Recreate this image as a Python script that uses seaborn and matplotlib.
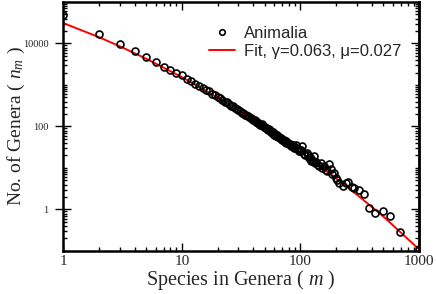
import matplotlib
matplotlib.use("Agg")
import matplotlib.pyplot as plt
from matplotlib.lines import Line2D
from matplotlib.ticker import FixedLocator, NullFormatter, FixedFormatter
import seaborn as sns
import pandas as pd

# ---- data ----
species = [1, 2, 3, 4, 5, 6, 7, 8, 9, 10,
           11, 12, 13, 14, 15, 16, 17, 18, 19, 20,
           21, 22, 23, 24, 25, 26, 27, 28, 29, 30,
           31, 32, 33, 34, 35, 36, 37, 38, 39, 40,
           41, 42, 43, 44, 45, 46, 47, 48, 49, 50,
           51, 52, 53, 54, 55, 56, 57, 58, 59, 60,
           61, 62, 63, 64, 65, 66, 67, 68, 69, 70,
           72, 73, 74, 75, 76, 78, 80, 82, 84, 86,
           88, 90, 91, 93, 95, 97, 100, 102, 104, 107,
           110, 113, 115, 118, 120, 122, 125, 128, 130, 133,
           136, 140, 143, 148, 152, 158, 163, 168, 175, 180,
           186, 192, 199, 205, 212, 227, 240, 253, 270, 284,
           313, 345, 378, 428, 500, 573, 692, 1000]
genera = [48000, 17000, 9600, 6450, 4650, 3560, 2750, 2290, 1940, 1700,
          1420, 1230, 1060, 960, 850, 760, 700, 620, 580, 520,
          480, 440, 400, 385, 350, 320, 305, 275, 265, 250,
          235, 215, 210, 190, 185, 180, 165, 158, 150, 140,
          145, 130, 125, 120, 118, 108, 112, 100, 98, 95,
          90, 88, 82, 85, 76, 80, 72, 70, 73, 64,
          66, 60, 62, 58, 55, 57, 52, 50, 54, 47,
          45, 48, 42, 44, 40, 41, 37, 38, 33, 35,
          31, 32, 36, 28, 29, 26, 25, 27, 33, 22,
          21, 23, 20, 17, 18, 14.5, 16, 15, 19, 13,
          14, 12, 11, 13, 10, 11, 9, 8.5, 12.5, 9.5,
          7, 7.6, 5.8, 5, 4.4, 3.6, 4.4, 4.6, 3.4, 3.3,
          2.9, 2.3, 1.1, 0.84, 0.91, 0.68, 0.28, 0.11]

fit_species = [1, 2, 3, 5, 10, 20, 30, 50, 100, 200, 300, 500, 1000]
fit_genera = [31000, 14200, 8550, 4300, 1550, 500, 248, 96, 24.5, 5.6, 2.27, 0.68, 0.11]

legend_labels = ["Animalia", "Fit, \u03b3=0.063, \u03bc=0.027"]
x_tick_values = [1, 10, 100, 1000]
x_tick_labels = ["1", "10", "100", "1000"]
y_tick_values = [1, 100, 10000]
y_tick_labels = ["1", "100", "10000"]

# ---- style ----
sns.set_style("ticks")
plt.rcParams["font.family"] = ["Liberation Serif", "DejaVu Serif"]
plt.rcParams["mathtext.fontset"] = "custom"
plt.rcParams["mathtext.rm"] = "Liberation Serif"
plt.rcParams["mathtext.it"] = "Liberation Serif:italic"

fig = plt.figure(figsize=(4.36, 2.94), dpi=100)
ax = fig.add_axes([0.1452, 0.1463, 0.961 - 0.1452, 0.9932 - 0.1463])

pts = pd.DataFrame({"m": species, "n": genera})
fit = pd.DataFrame({"m": fit_species, "n": fit_genera})

sns.lineplot(data=fit, x="m", y="n", ax=ax, color="#ff0000", linewidth=1.4,
             estimator=None, sort=True, zorder=2)
sns.lineplot(data=pts, x="m", y="n", ax=ax, estimator=None, sort=False,
             linestyle="", marker="o", markerfacecolor="none",
             markeredgecolor="black", markeredgewidth=1.2, markersize=5,
             zorder=3)

ax.set_xscale("log")
ax.set_yscale("log")
ax.set_xlim(1, 1000)
ax.set_ylim(0.1, 100000)

# ticks
xminor = [k * 10 ** e for e in range(0, 3) for k in range(2, 10)]
yminor = [k * 10.0 ** e for e in range(-1, 5) for k in range(1, 10)]
yminor = [v for v in yminor if v not in y_tick_values and 0.1 <= v <= 100000]

ax.xaxis.set_major_locator(FixedLocator(x_tick_values))
ax.xaxis.set_major_formatter(FixedFormatter(x_tick_labels))
ax.xaxis.set_minor_locator(FixedLocator(xminor))
ax.xaxis.set_minor_formatter(NullFormatter())

ax.yaxis.set_major_locator(FixedLocator(y_tick_values))
ax.yaxis.set_major_formatter(FixedFormatter(y_tick_labels))
ax.yaxis.set_minor_locator(FixedLocator(yminor))
ax.yaxis.set_minor_formatter(NullFormatter())

ax.tick_params(which="both", direction="in", top=True, right=False,
               width=1.0, color="black")
ax.tick_params(which="major", length=6)
ax.tick_params(which="minor", length=3)
ax.tick_params(axis="x", which="major", labelsize=11, pad=3)
ax.tick_params(axis="y", which="major", direction="inout", length=11,
               labelsize=7.5, pad=5)

# right-hand axis: inward ticks only
sec = ax.secondary_yaxis("right")
sec.yaxis.set_major_locator(FixedLocator(y_tick_values))
sec.yaxis.set_minor_locator(FixedLocator(yminor))
sec.yaxis.set_major_formatter(NullFormatter())
sec.yaxis.set_minor_formatter(NullFormatter())
sec.tick_params(which="both", direction="in", width=1.0, color="black")
sec.tick_params(which="major", length=6)
sec.tick_params(which="minor", length=3)
sec.spines["right"].set_linewidth(1.8)

for s in ax.spines.values():
    s.set_linewidth(1.8)
    s.set_color("black")

ax.set_xlabel("Species in Genera ( $m$ )", fontsize=14.5, labelpad=0)
ax.set_ylabel("No. of Genera ( $n_m$ )", fontsize=14)
ax.yaxis.set_label_coords(-0.103, 0.5)

handles = [
    Line2D([], [], linestyle="", marker="o", markerfacecolor="none",
           markeredgecolor="black", markeredgewidth=1.2, markersize=4),
    Line2D([], [], color="#ff0000", linewidth=1.4),
]
leg = ax.legend(handles, legend_labels, loc="upper left",
                bbox_to_anchor=(0.39, 0.93), frameon=False,
                prop={"family": ["Liberation Sans", "DejaVu Sans"], "size": 12},
                handlelength=1.6, handletextpad=0.5, labelspacing=0.15,
                borderaxespad=0.0)

fig.savefig("out.png", dpi=100)
